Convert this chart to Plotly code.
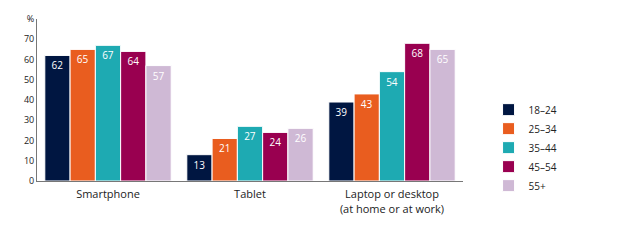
import plotly.graph_objects as go

categories = ["Smartphone", "Tablet", "Laptop or desktop<br>(at home or at work)"]
age_groups = ["18–24", "25–34", "35–44", "45–54", "55+"]
v_18_24 = [62, 13, 39]
v_25_34 = [65, 21, 43]
v_35_44 = [67, 27, 54]
v_45_54 = [64, 24, 68]
v_55p = [57, 26, 65]
series = [v_18_24, v_25_34, v_35_44, v_45_54, v_55p]
colors = ["#001641", "#e95d1f", "#1eaab2", "#990050", "#cfb9d5"]

fig = go.Figure()
for name, vals, col in zip(age_groups, series, colors):
    fig.add_trace(go.Bar(
        x=categories, y=vals, name=name,
        marker=dict(color=col, line=dict(color="white", width=1)),
        text=[str(v) for v in vals], textposition="inside",
        insidetextanchor="end", textangle=0,
        textfont=dict(color="white", size=10, family="Open Sans"),
    ))

fig.update_layout(
    width=624, height=246,
    margin=dict(l=37, r=161, t=15, b=65),
    paper_bgcolor="white", plot_bgcolor="white",
    barmode="group", bargap=0.11, bargroupgap=0.0,
    showlegend=True,
    legend=dict(x=1.06, y=0.53, xanchor="left", yanchor="top",
                font=dict(size=10, family="Open Sans", color="#222"),
                tracegroupgap=0, itemwidth=30),
    font=dict(family="Open Sans", color="#222"),
    uniformtext=dict(minsize=9, mode="show"),
)
fig.update_yaxes(
    range=[0, 80], tickvals=[0, 10, 20, 30, 40, 50, 60, 70, 80],
    ticktext=["0", "10", "20", "30", "40", "50", "60", "70", "%"],
    showgrid=False, showline=True, linecolor="#777", linewidth=1,
    ticks="", tickfont=dict(size=9, color="#222"), zeroline=False,
)
fig.update_xaxes(
    showgrid=False, showline=True, linecolor="#777", linewidth=1,
    ticks="", tickfont=dict(size=11, color="#222"), ticklabelstandoff=3,
)

fig.write_html("out.html")
